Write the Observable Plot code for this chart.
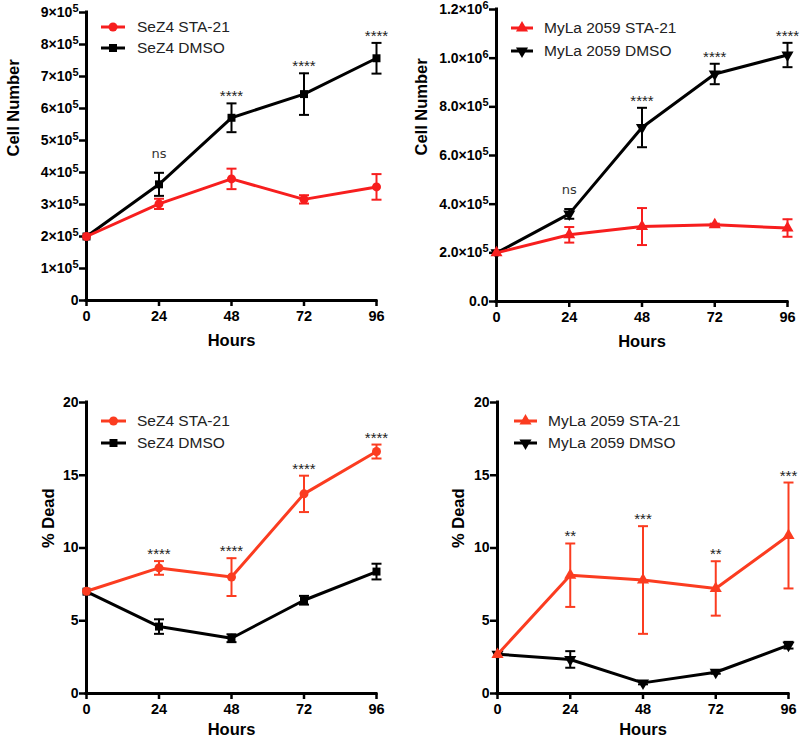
<!DOCTYPE html>
<html><head><meta charset="utf-8">
<script src="https://cdn.jsdelivr.net/npm/d3@7"></script>
<script src="https://cdn.jsdelivr.net/npm/@observablehq/plot@0.6"></script>
<style>
html,body{margin:0;padding:0;background:#fff;}
#wrap{position:relative;width:800px;height:740px;overflow:hidden;font-family:"Liberation Sans",Arial,sans-serif;}
.panel{position:absolute;}
.legtext{position:absolute;font-size:15.5px;line-height:18px;color:#222;white-space:nowrap;}
.legsw{position:absolute;}
</style></head>
<body><div id="wrap"></div>
<script>
// ---------- data ----------
const hours = [0, 24, 48, 72, 96];

// SeZ4 cell number
const sezCellSTA      = [2.00e5, 3.02e5, 3.80e5, 3.16e5, 3.55e5];
const sezCellSTAErr   = [0, 0.16e5, 0.32e5, 0.13e5, 0.40e5];
const sezCellDMSO     = [2.00e5, 3.63e5, 5.71e5, 6.45e5, 7.57e5];
const sezCellDMSOErr  = [0, 0.36e5, 0.45e5, 0.65e5, 0.48e5];
const sezCellSig      = ["", "ns", "****", "****", "****"];

// MyLa 2059 cell number
const mylaCellSTA     = [2.00e5, 2.74e5, 3.08e5, 3.15e5, 3.02e5];
const mylaCellSTAErr  = [0, 0.32e5, 0.76e5, 0.05e5, 0.36e5];
const mylaCellDMSO    = [2.00e5, 3.60e5, 7.15e5, 9.35e5, 1.013e6];
const mylaCellDMSOErr = [0, 0.20e5, 0.81e5, 0.42e5, 0.50e5];
const mylaCellSig     = ["", "ns", "****", "****", "****"];

// SeZ4 % dead
const sezDeadSTA      = [7.03, 8.63, 8.00, 13.72, 16.63];
const sezDeadSTAErr   = [0, 0.47, 1.30, 1.25, 0.48];
const sezDeadDMSO     = [7.00, 4.60, 3.80, 6.41, 8.38];
const sezDeadDMSOErr  = [0, 0.50, 0.27, 0.30, 0.54];
const sezDeadSig      = ["", "****", "****", "****", "****"];

// MyLa 2059 % dead
const mylaDeadSTA     = [2.68, 8.13, 7.80, 7.22, 10.86];
const mylaDeadSTAErr  = [0, 2.18, 3.70, 1.87, 3.64];
const mylaDeadDMSO    = [2.70, 2.34, 0.73, 1.46, 3.32];
const mylaDeadDMSOErr = [0, 0.57, 0.10, 0.10, 0.23];
const mylaDeadSig     = ["", "**", "***", "**", "***"];

const cellTicks1 = [0, 1e5, 2e5, 3e5, 4e5, 5e5, 6e5, 7e5, 8e5, 9e5];
const cellTicks2 = [0, 2e5, 4e5, 6e5, 8e5, 1e6, 1.2e6];
const deadTicks  = [0, 5, 10, 15, 20];

// ---------- styling ----------
const FONT = '"Liberation Sans", Arial, sans-serif';
const RED_TOP = "#f71e1e";
const RED_BOT = "#fb3c20";
const BLACK = "#000";

const capSymbol = {draw(ctx) { ctx.moveTo(-5, 0); ctx.lineTo(5, 0); }};

function fmt1(d) { return d === 0 ? "0" : `${d / 1e5}×10^5`; }
function fmt2(d) {
  if (d === 0) return "0.0";
  if (d >= 1e6) return `${(d / 1e6).toFixed(1)}×10^6`;
  return `${(d / 1e5).toFixed(1)}×10^5`;
}

const wrap = document.getElementById("wrap");

function makePanel(cfg) {
  const rows = s => hours.map((h, i) => ({h, v: s.values[i], e: s.errors[i]}));
  const marks = [];
  // axis lines
  marks.push(Plot.ruleX([0], {stroke: BLACK, strokeWidth: 3, strokeLinecap: "square"}));
  marks.push(Plot.ruleY([0], {stroke: BLACK, strokeWidth: 3, strokeLinecap: "square"}));
  marks.push(Plot.axisY({ticks: cfg.yTicks, tickSize: 7, tickPadding: 1, tickFormat: cfg.yFormat,
    label: null, fontSize: 14, fontWeight: "bold", strokeWidth: 2.5, color: "#000"}));
  marks.push(Plot.axisX({ticks: hours, tickSize: 6, tickPadding: 4, tickFormat: d => String(d),
    label: null, fontSize: 14.5, fontWeight: "bold", strokeWidth: 2.5, color: "#000"}));
  for (const s of cfg.series) {
    const data = rows(s);
    const errData = data.filter(d => d.e > 0);
    marks.push(Plot.line(data, {x: "h", y: "v", stroke: s.color, strokeWidth: 3}));
    marks.push(Plot.ruleX(errData, {x: "h", y1: d => d.v - d.e, y2: d => d.v + d.e, stroke: s.color, strokeWidth: 2}));
    marks.push(Plot.dot(errData, {x: "h", y: d => d.v - d.e, symbol: capSymbol, stroke: s.color, strokeWidth: 2, fill: "none"}));
    marks.push(Plot.dot(errData, {x: "h", y: d => d.v + d.e, symbol: capSymbol, stroke: s.color, strokeWidth: 2, fill: "none"}));
    marks.push(Plot.dot(data, {x: "h", y: "v", symbol: s.symbol, r: s.r, rotate: s.rotate || 0, fill: s.color, stroke: "none"}));
  }
  // significance labels above highest error bar
  const sig = hours.map((h, i) => ({
    h, label: cfg.sig[i],
    top: Math.max(...cfg.series.map(s => s.values[i] + s.errors[i]))
  })).filter(d => d.label);
  marks.push(Plot.text(sig.filter(d => d.label !== "ns"), {x: "h", y: "top", text: "label", lineAnchor: "bottom",
    dy: -2, fontSize: 15, fill: "#222", letterSpacing: 1}));
  marks.push(Plot.text(sig.filter(d => d.label === "ns"), {x: "h", y: "top", text: "label", lineAnchor: "bottom",
    dy: -15, fontSize: 13, fill: "#333", fontFamily: '"DejaVu Sans", sans-serif'}));
  // axis titles
  marks.push(Plot.text([cfg.xLabel], {frameAnchor: "bottom", text: d => d, dy: cfg.xLabelDy, lineAnchor: "middle",
    fontSize: 16.5, fontWeight: "bold", fill: "#000"}));
  marks.push(Plot.text([cfg.yLabel], {frameAnchor: "left", text: d => d, dx: -cfg.yLabelOffset, rotate: -90,
    lineAnchor: "middle", fontSize: 16.5, fontWeight: "bold", fill: "#000"}));

  const svg = Plot.plot({
    width: cfg.width, height: cfg.height,
    marginLeft: cfg.m[3], marginTop: cfg.m[0], marginRight: cfg.m[1], marginBottom: cfg.m[2],
    x: {domain: [0, 96]},
    y: {domain: cfg.yDomain},
    style: {fontFamily: FONT, background: "transparent", overflow: "visible"},
    marks
  });
  // superscripts in tick labels
  svg.querySelectorAll('g[aria-label="y-axis tick label"] text').forEach(t => {
    const s = t.textContent;
    if (s.includes("^")) {
      const [base, exp] = s.split("^");
      t.textContent = base;
      const ts = document.createElementNS("http://www.w3.org/2000/svg", "tspan");
      ts.setAttribute("dy", "-0.45em");
      ts.setAttribute("font-size", "11");
      ts.textContent = exp;
      t.appendChild(ts);
    }
  });
  const div = document.createElement("div");
  div.className = "panel";
  div.style.left = cfg.left + "px";
  div.style.top = cfg.top + "px";
  div.appendChild(svg);
  wrap.appendChild(div);

  // legend
  cfg.series.slice().reverse().forEach((s, k) => {
    const y = cfg.legend.y + k * cfg.legend.gap;
    const sw = document.createElementNS("http://www.w3.org/2000/svg", "svg");
    sw.setAttribute("width", 30); sw.setAttribute("height", 16);
    sw.setAttribute("class", "legsw");
    sw.style.left = (cfg.legend.x1 - 3) + "px";
    sw.style.top = (y - 8) + "px";
    const len = cfg.legend.x2 - cfg.legend.x1;
    const g = d3.select(sw);
    g.append("line").attr("x1", 3).attr("x2", 3 + len).attr("y1", 8).attr("y2", 8)
      .attr("stroke", s.color).attr("stroke-width", 3);
    const sym = d3.symbol(s.d3sym, s.r * s.r * Math.PI)();
    g.append("path").attr("d", sym).attr("fill", s.color)
      .attr("transform", `translate(${3 + len / 2},8) rotate(${s.rotate || 0})`);
    const lab = document.createElement("div");
    lab.className = "legtext";
    lab.style.left = cfg.legend.tx + "px";
    lab.style.top = (y - 9) + "px";
    lab.textContent = s.name;
    div.appendChild(sw);
    div.appendChild(lab);
  });
}

// Panel A: SeZ4 cell number
makePanel({
  left: 0, top: 0, width: 400, height: 370, m: [12, 24, 70, 86],
  yDomain: [0, 9e5], yTicks: cellTicks1, yFormat: fmt1,
  xLabel: "Hours", xLabelDy: 40, yLabel: "Cell Number", yLabelOffset: 73,
  sig: sezCellSig,
  series: [
    {name: "SeZ4 DMSO", values: sezCellDMSO, errors: sezCellDMSOErr, color: BLACK, symbol: "square", d3sym: d3.symbolSquare, r: 4.5},
    {name: "SeZ4 STA-21", values: sezCellSTA, errors: sezCellSTAErr, color: RED_TOP, symbol: "circle", d3sym: d3.symbolCircle, r: 4.5}
  ],
  legend: {x1: 101, x2: 125, tx: 137, y: 27, gap: 21}
});

// Panel B: MyLa 2059 cell number
makePanel({
  left: 400, top: 0, width: 400, height: 370, m: [9, 13, 69, 96],
  yDomain: [0, 1.2e6], yTicks: cellTicks2, yFormat: fmt2,
  xLabel: "Hours", xLabelDy: 40, yLabel: "Cell Number", yLabelOffset: 75,
  sig: mylaCellSig,
  series: [
    {name: "MyLa 2059 DMSO", values: mylaCellDMSO, errors: mylaCellDMSOErr, color: BLACK, symbol: "triangle", d3sym: d3.symbolTriangle, r: 4.5, rotate: 180},
    {name: "MyLa 2059 STA-21", values: mylaCellSTA, errors: mylaCellSTAErr, color: RED_TOP, symbol: "triangle", d3sym: d3.symbolTriangle, r: 4.5}
  ],
  legend: {x1: 111, x2: 133, tx: 144, y: 28, gap: 23}
});

// Panel C: SeZ4 % dead
makePanel({
  left: 0, top: 380, width: 400, height: 360, m: [22, 24, 47, 86],
  yDomain: [0, 20], yTicks: deadTicks, yFormat: d => String(d),
  xLabel: "Hours", xLabelDy: 36, yLabel: "% Dead", yLabelOffset: 38,
  sig: sezDeadSig,
  series: [
    {name: "SeZ4 DMSO", values: sezDeadDMSO, errors: sezDeadDMSOErr, color: BLACK, symbol: "square", d3sym: d3.symbolSquare, r: 4.5},
    {name: "SeZ4 STA-21", values: sezDeadSTA, errors: sezDeadSTAErr, color: RED_BOT, symbol: "circle", d3sym: d3.symbolCircle, r: 4.5}
  ],
  legend: {x1: 101, x2: 126, tx: 137, y: 41, gap: 22}
});

// Panel D: MyLa 2059 % dead
makePanel({
  left: 400, top: 380, width: 400, height: 360, m: [22, 12, 47, 97],
  yDomain: [0, 20], yTicks: deadTicks, yFormat: d => String(d),
  xLabel: "Hours", xLabelDy: 36, yLabel: "% Dead", yLabelOffset: 39,
  sig: mylaDeadSig,
  series: [
    {name: "MyLa 2059 DMSO", values: mylaDeadDMSO, errors: mylaDeadDMSOErr, color: BLACK, symbol: "triangle", d3sym: d3.symbolTriangle, r: 4.5, rotate: 180},
    {name: "MyLa 2059 STA-21", values: mylaDeadSTA, errors: mylaDeadSTAErr, color: RED_BOT, symbol: "triangle", d3sym: d3.symbolTriangle, r: 4.5}
  ],
  legend: {x1: 114, x2: 137, tx: 148, y: 41, gap: 22}
});
</script>
</body></html>
